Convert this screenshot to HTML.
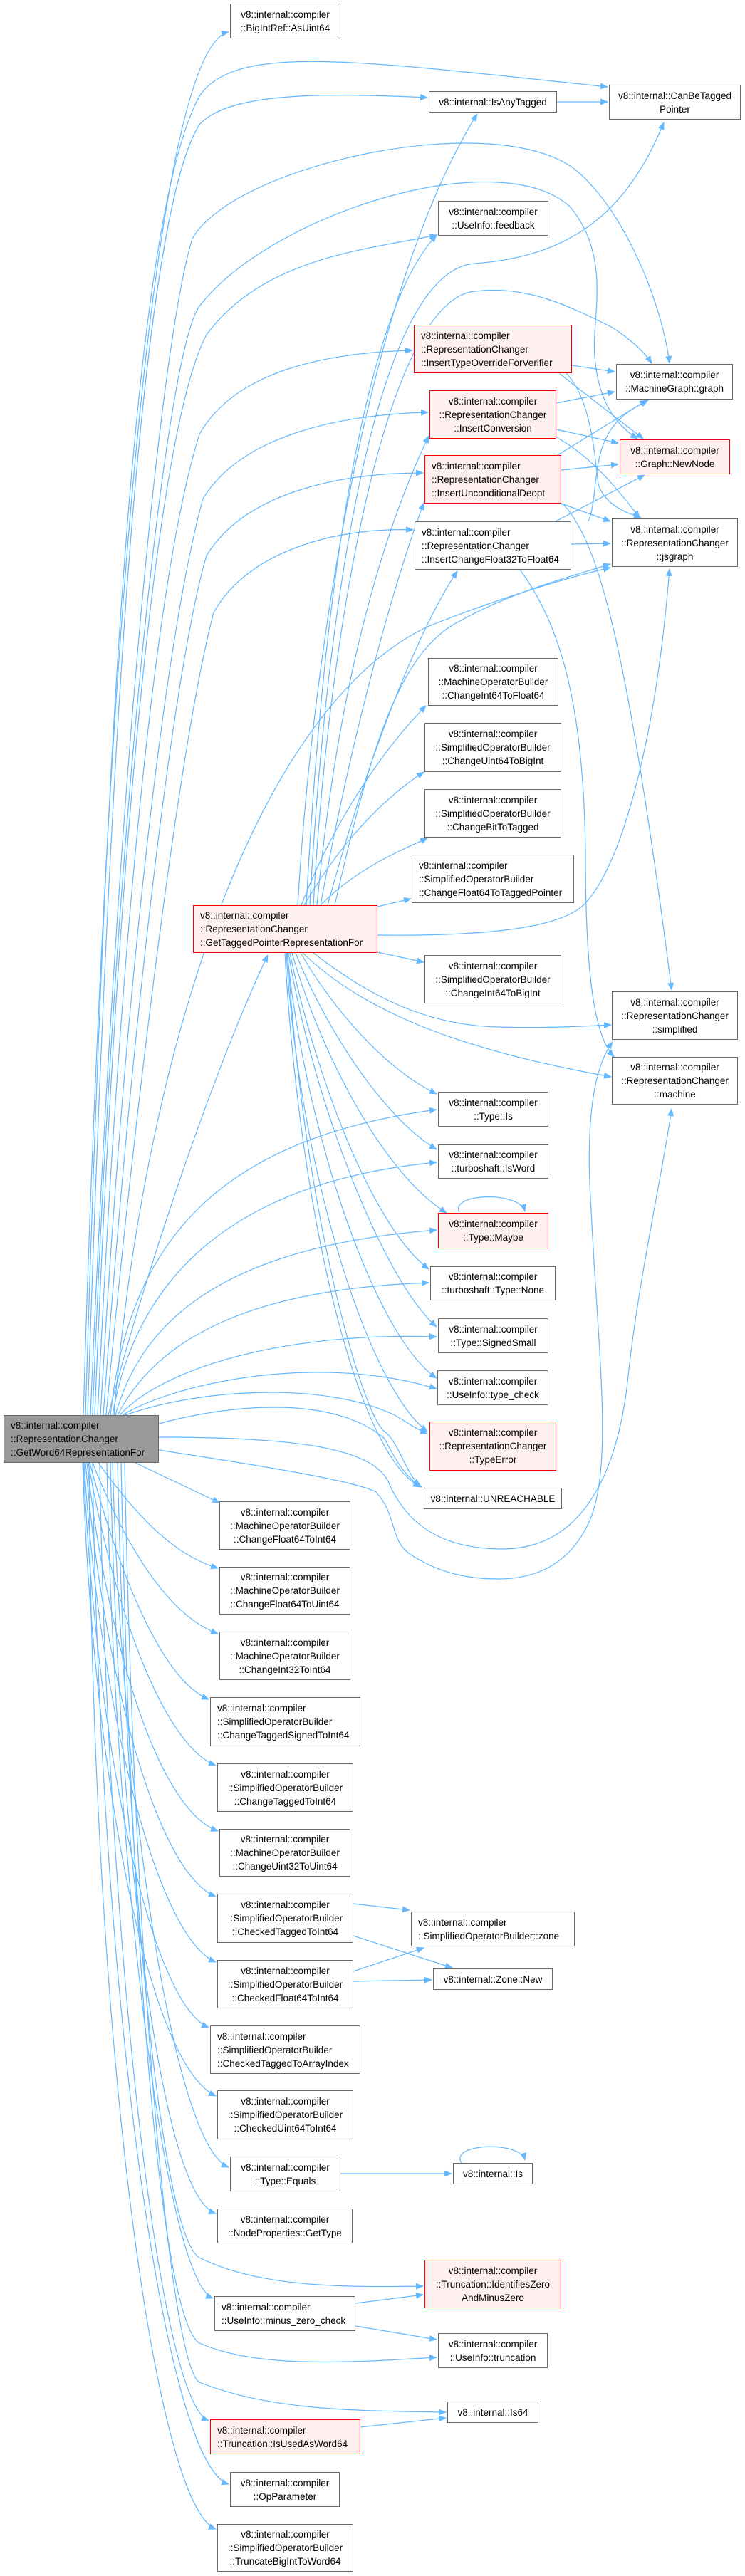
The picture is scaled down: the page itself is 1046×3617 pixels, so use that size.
<!DOCTYPE html>
<html><head><meta charset="utf-8"><style>
html,body{margin:0;padding:0;background:#fff;}
body{width:1046px;height:3617px;position:relative;overflow:hidden;font-family:"Liberation Sans",sans-serif;}
svg{position:absolute;left:0;top:0;}
.n{position:absolute;box-sizing:border-box;border:1px solid #666;background:#fff;display:flex;flex-direction:column;justify-content:center;align-items:center;font-size:13.5px;line-height:19px;color:#000;white-space:nowrap;text-align:center;}
.n.l{align-items:flex-start;padding-left:9px;text-align:left;}
.r{background:#fff0f0;border-color:#ff0000;}
.g{background:#999;border-color:#666;}
</style></head><body>
<svg width="1046" height="3617" viewBox="0 0 1046 3617">
<defs><marker id="a" markerWidth="11" markerHeight="9" refX="10" refY="4.5" orient="auto" markerUnits="userSpaceOnUse"><path d="M0,0 L11,4.5 L0,9 z" fill="#63b8ff"/></marker></defs>
<g fill="none" stroke="#63b8ff" stroke-width="1.2" marker-end="url(#a)">
<path d="M117 1987 C140 1200, 200 70, 321 45"/>
<path d="M120 1987 C150 1000, 190 300, 280 135 C330 60, 500 85, 853 122"/>
<path d="M123 1987 C155 1000, 200 300, 280 175 C320 130, 450 130, 600 137"/>
<path d="M127 1987 C160 1200, 220 500, 270 335 C330 230, 700 150, 810 240 C880 300, 930 430, 940 510"/>
<path d="M130 1987 C160 1200, 230 500, 280 430 C380 300, 700 200, 800 290 C860 360, 830 450, 835 500 C840 570, 870 600, 895 616"/>
<path d="M133 1987 C165 1200, 220 600, 290 470 C370 360, 520 350, 613 330"/>
<path d="M137 1987 C170 1300, 220 800, 280 610 C330 520, 460 495, 579 492"/>
<path d="M141 1987 C175 1400, 230 900, 285 700 C340 610, 480 582, 601 579"/>
<path d="M145 1987 C180 1500, 240 950, 290 780 C345 690, 480 664, 594 664"/>
<path d="M149 1987 C185 1600, 250 1050, 300 860 C350 770, 480 740, 580 744"/>
<path d="M160 1987 C200 1500, 350 1000, 600 880 C700 840, 800 810, 857 797"/>
<path d="M152 1987 C200 1800, 300 1500, 376 1341"/>
<path d="M155 1987 C180 1750, 300 1600, 613 1558"/>
<path d="M158 1987 C190 1800, 320 1660, 613 1632"/>
<path d="M162 1987 C200 1850, 320 1750, 613 1727"/>
<path d="M165 1987 C220 1880, 350 1810, 602 1801"/>
<path d="M168 1987 C230 1920, 400 1870, 613 1877"/>
<path d="M172 1987 C250 1940, 450 1900, 613 1950"/>
<path d="M176 1987 C280 1950, 450 1940, 550 1985 C570 1995, 580 2005, 600 2013"/>
<path d="M223 1999 C330 1970, 470 1960, 540 2020 C555 2050, 570 2075, 592 2088"/>
<path d="M223 2018 C400 2018, 520 2030, 545 2080 C570 2140, 620 2175, 705 2175 C800 2175, 860 2100, 880 1950 C895 1800, 930 1650, 943 1557"/>
<path d="M223 2036 C380 2060, 500 2080, 528 2095 C560 2130, 545 2165, 580 2185 C620 2210, 660 2217, 700 2217 C770 2217, 810 2180, 830 2130 C860 2050, 840 1900, 830 1700 C820 1550, 840 1490, 860 1463"/>
<path d="M190 2054 L308 2110"/>
<path d="M138 2054 C200 2140, 250 2185, 306 2202"/>
<path d="M130 2054 C180 2180, 240 2270, 306 2294"/>
<path d="M126 2054 C170 2220, 230 2360, 293 2386"/>
<path d="M124 2054 C160 2260, 230 2450, 303 2479"/>
<path d="M122 2054 C150 2300, 220 2540, 306 2571"/>
<path d="M120 2054 C145 2350, 220 2630, 303 2663"/>
<path d="M118 2054 C140 2400, 220 2720, 303 2755"/>
<path d="M117 2054 C135 2450, 210 2810, 293 2847"/>
<path d="M116 2054 C130 2500, 210 2900, 303 2943"/>
<path d="M158 2054 C170 2500, 240 3010, 321 3043"/>
<path d="M155 2054 C165 2550, 220 3080, 303 3108"/>
<path d="M165 2054 C180 2700, 230 3140, 280 3170 C360 3210, 470 3212, 594 3210"/>
<path d="M150 2054 C160 2600, 230 3200, 299 3227"/>
<path d="M170 2054 C185 2800, 230 3260, 280 3290 C360 3325, 480 3318, 613 3310"/>
<path d="M175 2054 C190 2800, 240 3320, 280 3345 C380 3385, 500 3385, 626 3387"/>
<path d="M140 2054 C150 2700, 220 3370, 293 3399"/>
<path d="M130 2054 C140 2800, 230 3460, 321 3488"/>
<path d="M125 2054 C130 2900, 220 3520, 303 3551"/>
<path d="M496 2673 L575 2682"/>
<path d="M496 2718 L635 2763"/>
<path d="M496 2768 L595 2735"/>
<path d="M496 2782 L606 2780"/>
<path d="M477 3052 L634 3052"/>
<path d="M648 3037 C630 3010, 730 3005, 737 3033"/>
<path d="M645 1703 C630 1675, 730 1672, 737 1701"/>
<path d="M499 3234 L594 3222"/>
<path d="M499 3266 L613 3285"/>
<path d="M506 3408 L626 3395"/>
<path d="M423 1271 C470 1150, 540 1050, 598 991"/>
<path d="M427 1271 C480 1180, 540 1120, 595 1084"/>
<path d="M450 1271 C500 1220, 560 1195, 600 1177"/>
<path d="M530 1273 L577 1262"/>
<path d="M530 1337 L595 1351"/>
<path d="M440 1338 C520 1400, 600 1440, 700 1442 C760 1444, 820 1441, 858 1439"/>
<path d="M425 1338 C500 1410, 620 1470, 858 1512"/>
<path d="M422 1338 C470 1420, 540 1500, 613 1536"/>
<path d="M415 1338 C460 1450, 540 1570, 613 1614"/>
<path d="M410 1338 C450 1480, 540 1650, 627 1703"/>
<path d="M407 1338 C440 1500, 520 1720, 602 1782"/>
<path d="M405 1338 C440 1550, 540 1800, 613 1863"/>
<path d="M403 1338 C430 1600, 530 1880, 613 1935"/>
<path d="M402 1338 C420 1650, 520 1950, 600 2010"/>
<path d="M400 1338 C420 1700, 500 2040, 590 2088"/>
<path d="M404 1338 C425 1700, 510 1990, 540 2010 C560 2025, 570 2070, 590 2086"/>
<path d="M418 1271 C440 900, 520 400, 670 160"/>
<path d="M430 1271 C450 900, 500 450, 613 330"/>
<path d="M435 1271 C455 900, 520 380, 667 370 C800 360, 880 300, 932 172"/>
<path d="M440 1271 C460 900, 540 420, 667 409 C740 400, 800 430, 860 460 C890 480, 905 495, 915 510"/>
<path d="M445 1271 C480 900, 560 700, 602 612"/>
<path d="M450 1271 C500 1000, 560 800, 595 706"/>
<path d="M460 1271 C520 1050, 590 880, 642 802"/>
<path d="M470 1271 C520 1050, 560 920, 640 875 C720 830, 800 810, 857 792"/>
<path d="M529 1313 C700 1315, 790 1300, 820 1270 C870 1220, 920 1050, 940 799"/>
<path d="M782 143 L853 143"/>
<path d="M803 513 L863 522"/>
<path d="M785 524 C830 560, 870 590, 903 616"/>
<path d="M795 524 C830 560, 835 640, 840 680 C850 710, 880 720, 900 727"/>
<path d="M781 566 L863 550"/>
<path d="M781 603 L868 622"/>
<path d="M781 614 C830 640, 870 690, 898 727"/>
<path d="M783 639 L908 562"/>
<path d="M788 660 L868 652"/>
<path d="M788 707 L857 732"/>
<path d="M790 707 C840 760, 880 900, 943 1390"/>
<path d="M780 732 L905 667"/>
<path d="M802 764 L857 763"/>
<path d="M826 732 C840 700, 830 640, 860 600 C875 580, 895 570, 910 562"/>
<path d="M730 800 C790 880, 820 1000, 822 1200 C822 1400, 840 1460, 862 1484"/>
</g>
</svg>

<div class="n" style="left:323px;top:5px;width:155px;height:49px">v8::internal::compiler<br>::BigIntRef::AsUint64</div>
<div class="n" style="left:602px;top:128px;width:180px;height:30px">v8::internal::IsAnyTagged</div>
<div class="n" style="left:855px;top:119px;width:185px;height:49px">v8::internal::CanBeTagged<br>Pointer</div>
<div class="n" style="left:615px;top:282px;width:155px;height:49px">v8::internal::compiler<br>::UseInfo::feedback</div>
<div class="n r l" style="left:581px;top:456px;width:222px;height:68px">v8::internal::compiler<br>::RepresentationChanger<br>::InsertTypeOverrideForVerifier</div>
<div class="n" style="left:865px;top:511px;width:164px;height:50px">v8::internal::compiler<br>::MachineGraph::graph</div>
<div class="n r" style="left:603px;top:548px;width:178px;height:68px">v8::internal::compiler<br>::RepresentationChanger<br>::InsertConversion</div>
<div class="n r" style="left:870px;top:617px;width:155px;height:49px">v8::internal::compiler<br>::Graph::NewNode</div>
<div class="n r l" style="left:596px;top:639px;width:192px;height:68px">v8::internal::compiler<br>::RepresentationChanger<br>::InsertUnconditionalDeopt</div>
<div class="n l" style="left:582px;top:732px;width:220px;height:68px">v8::internal::compiler<br>::RepresentationChanger<br>::InsertChangeFloat32ToFloat64</div>
<div class="n" style="left:859px;top:728px;width:177px;height:68px">v8::internal::compiler<br>::RepresentationChanger<br>::jsgraph</div>
<div class="n" style="left:601px;top:924px;width:183px;height:67px">v8::internal::compiler<br>::MachineOperatorBuilder<br>::ChangeInt64ToFloat64</div>
<div class="n" style="left:596px;top:1015px;width:192px;height:69px">v8::internal::compiler<br>::SimplifiedOperatorBuilder<br>::ChangeUint64ToBigInt</div>
<div class="n" style="left:596px;top:1108px;width:192px;height:68px">v8::internal::compiler<br>::SimplifiedOperatorBuilder<br>::ChangeBitToTagged</div>
<div class="n l" style="left:578px;top:1200px;width:228px;height:68px">v8::internal::compiler<br>::SimplifiedOperatorBuilder<br>::ChangeFloat64ToTaggedPointer</div>
<div class="n r l" style="left:271px;top:1271px;width:259px;height:67px">v8::internal::compiler<br>::RepresentationChanger<br>::GetTaggedPointerRepresentationFor</div>
<div class="n" style="left:596px;top:1341px;width:192px;height:68px">v8::internal::compiler<br>::SimplifiedOperatorBuilder<br>::ChangeInt64ToBigInt</div>
<div class="n" style="left:859px;top:1392px;width:177px;height:68px">v8::internal::compiler<br>::RepresentationChanger<br>::simplified</div>
<div class="n" style="left:859px;top:1484px;width:177px;height:67px">v8::internal::compiler<br>::RepresentationChanger<br>::machine</div>
<div class="n" style="left:615px;top:1533px;width:155px;height:49px">v8::internal::compiler<br>::Type::Is</div>
<div class="n" style="left:615px;top:1607px;width:155px;height:48px">v8::internal::compiler<br>::turboshaft::IsWord</div>
<div class="n r" style="left:615px;top:1703px;width:155px;height:50px">v8::internal::compiler<br>::Type::Maybe</div>
<div class="n" style="left:604px;top:1778px;width:176px;height:48px">v8::internal::compiler<br>::turboshaft::Type::None</div>
<div class="n" style="left:615px;top:1851px;width:155px;height:49px">v8::internal::compiler<br>::Type::SignedSmall</div>
<div class="n" style="left:614px;top:1924px;width:156px;height:49px">v8::internal::compiler<br>::UseInfo::type_check</div>
<div class="n r" style="left:603px;top:1996px;width:178px;height:69px">v8::internal::compiler<br>::RepresentationChanger<br>::TypeError</div>
<div class="n" style="left:595px;top:2089px;width:194px;height:30px">v8::internal::UNREACHABLE</div>
<div class="n g l" style="left:5px;top:1987px;width:218px;height:67px">v8::internal::compiler<br>::RepresentationChanger<br>::GetWord64RepresentationFor</div>
<div class="n" style="left:308px;top:2108px;width:184px;height:68px">v8::internal::compiler<br>::MachineOperatorBuilder<br>::ChangeFloat64ToInt64</div>
<div class="n" style="left:308px;top:2200px;width:184px;height:67px">v8::internal::compiler<br>::MachineOperatorBuilder<br>::ChangeFloat64ToUint64</div>
<div class="n" style="left:308px;top:2291px;width:184px;height:68px">v8::internal::compiler<br>::MachineOperatorBuilder<br>::ChangeInt32ToInt64</div>
<div class="n l" style="left:295px;top:2383px;width:211px;height:69px">v8::internal::compiler<br>::SimplifiedOperatorBuilder<br>::ChangeTaggedSignedToInt64</div>
<div class="n" style="left:305px;top:2476px;width:191px;height:68px">v8::internal::compiler<br>::SimplifiedOperatorBuilder<br>::ChangeTaggedToInt64</div>
<div class="n" style="left:308px;top:2568px;width:184px;height:67px">v8::internal::compiler<br>::MachineOperatorBuilder<br>::ChangeUint32ToUint64</div>
<div class="n" style="left:305px;top:2659px;width:191px;height:69px">v8::internal::compiler<br>::SimplifiedOperatorBuilder<br>::CheckedTaggedToInt64</div>
<div class="n l" style="left:577px;top:2684px;width:230px;height:49px">v8::internal::compiler<br>::SimplifiedOperatorBuilder::zone</div>
<div class="n" style="left:608px;top:2764px;width:168px;height:30px">v8::internal::Zone::New</div>
<div class="n" style="left:305px;top:2752px;width:191px;height:68px">v8::internal::compiler<br>::SimplifiedOperatorBuilder<br>::CheckedFloat64ToInt64</div>
<div class="n l" style="left:295px;top:2844px;width:211px;height:68px">v8::internal::compiler<br>::SimplifiedOperatorBuilder<br>::CheckedTaggedToArrayIndex</div>
<div class="n" style="left:305px;top:2935px;width:191px;height:69px">v8::internal::compiler<br>::SimplifiedOperatorBuilder<br>::CheckedUint64ToInt64</div>
<div class="n" style="left:323px;top:3028px;width:155px;height:49px">v8::internal::compiler<br>::Type::Equals</div>
<div class="n" style="left:636px;top:3037px;width:112px;height:30px">v8::internal::Is</div>
<div class="n" style="left:305px;top:3101px;width:190px;height:49px">v8::internal::compiler<br>::NodeProperties::GetType</div>
<div class="n r" style="left:596px;top:3173px;width:192px;height:68px">v8::internal::compiler<br>::Truncation::IdentifiesZero<br>AndMinusZero</div>
<div class="n l" style="left:301px;top:3224px;width:198px;height:49px">v8::internal::compiler<br>::UseInfo::minus_zero_check</div>
<div class="n" style="left:615px;top:3276px;width:154px;height:49px">v8::internal::compiler<br>::UseInfo::truncation</div>
<div class="n" style="left:628px;top:3372px;width:128px;height:30px">v8::internal::Is64</div>
<div class="n r l" style="left:295px;top:3397px;width:211px;height:49px">v8::internal::compiler<br>::Truncation::IsUsedAsWord64</div>
<div class="n" style="left:323px;top:3471px;width:154px;height:49px">v8::internal::compiler<br>::OpParameter</div>
<div class="n" style="left:305px;top:3544px;width:191px;height:67px">v8::internal::compiler<br>::SimplifiedOperatorBuilder<br>::TruncateBigIntToWord64</div>
</body></html>
